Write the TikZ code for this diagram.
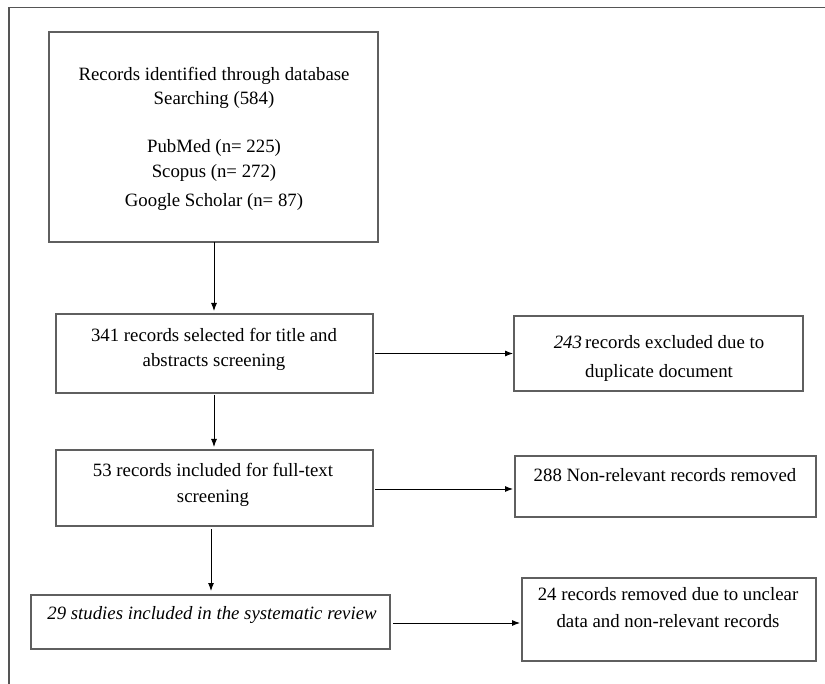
\documentclass[tikz,border=0pt]{standalone}
\usepackage{fontspec}
\setmainfont{Liberation Serif}
\usetikzlibrary{arrows.meta,calc}
\definecolor{boxgray}{RGB}{95,95,95}
\definecolor{framegray}{RGB}{85,85,85}
\begin{document}
\begin{tikzpicture}[x=1pt,y=-1pt,
  stepbox/.style={draw=boxgray,line width=1.2pt,inner sep=0pt,outer sep=0pt},
  txt/.style={anchor=base,inner sep=0pt,font=\fontsize{18.8}{22}\selectfont},
  arr/.style={line width=0.9pt,-{Latex[length=8pt,width=6pt]}}]
\useasboundingbox (0,0) rectangle (825,684);
% frame
\draw[framegray,line width=1.3pt] (9,684) -- (9,7.5) -- (825,7.5);
% boxes
\node[stepbox,minimum width=329pt,minimum height=210pt] (b1) at (213.5,137) {};
\node[stepbox,minimum width=317pt,minimum height=79pt] (b2) at (214.5,353.5) {};
\node[stepbox,minimum width=317pt,minimum height=76pt] (b3) at (214.5,488) {};
\node[stepbox,minimum width=359pt,minimum height=54pt] (b4) at (210.5,622) {};
\node[stepbox,minimum width=289pt,minimum height=75pt] (r1) at (658.5,353.5) {};
\node[stepbox,minimum width=301pt,minimum height=61pt] (r2) at (665.5,486.5) {};
\node[stepbox,minimum width=294pt,minimum height=83pt] (r3) at (669,619.5) {};
% texts
\node[txt] (t1a) at (214,81) {Records identified through database};
\node[txt] (t1b) at (214,105) {Searching (584)};
\node[txt] (t1c) at (214,153) {PubMed (n= 225)};
\node[txt] (t1d) at (214,178) {Scopus (n= 272)};
\node[txt] (t1e) at (214,207) {Google Scholar (n= 87)};
\node[txt] (t2a) at (214,342) {341 records selected for title and};
\node[txt] (t2b) at (214,367) {abstracts screening};
\node[txt] (t3a) at (213,477) {53 records included for full-text};
\node[txt] (t3b) at (213,502) {screening};
\node[txt] (t4a) at (212,619) {\itshape 29 studies included in the systematic review};
\node[txt] (u1a) at (659,349) {\textit{243}\,records excluded due to};
\node[txt] (u1b) at (659,378) {duplicate document};
\node[txt] (u2a) at (665,482) {288 Non-relevant records removed};
\node[txt] (u3a) at (668,600) {24 records removed due to unclear};
\node[txt] (u3b) at (668,627) {data and non-relevant records};
% vertical arrows
\draw[arr] ([xshift=0.5pt]b1.south) -- ([xshift=-0.5pt,yshift=3pt]b2.north);
\draw[arr] ([xshift=-0.5pt,yshift=-2pt]b2.south) -- ([xshift=-0.5pt,yshift=3pt]b3.north);
\draw[arr] ([xshift=-3.5pt,yshift=-3pt]b3.south) -- ([xshift=0.5pt,yshift=4pt]b4.north);
% horizontal arrows
\draw[arr] ([xshift=2pt]b2.east) -- ([xshift=-1pt]b2.east -| r1.west);
\draw[arr] ([xshift=2pt,yshift=-1pt]b3.east) -- ([xshift=-2pt,yshift=-1pt]b3.east -| r2.west);
\draw[arr] ([xshift=3pt,yshift=-1pt]b4.east) -- ([xshift=-2pt,yshift=-1pt]b4.east -| r3.west);
\end{tikzpicture}
\end{document}
